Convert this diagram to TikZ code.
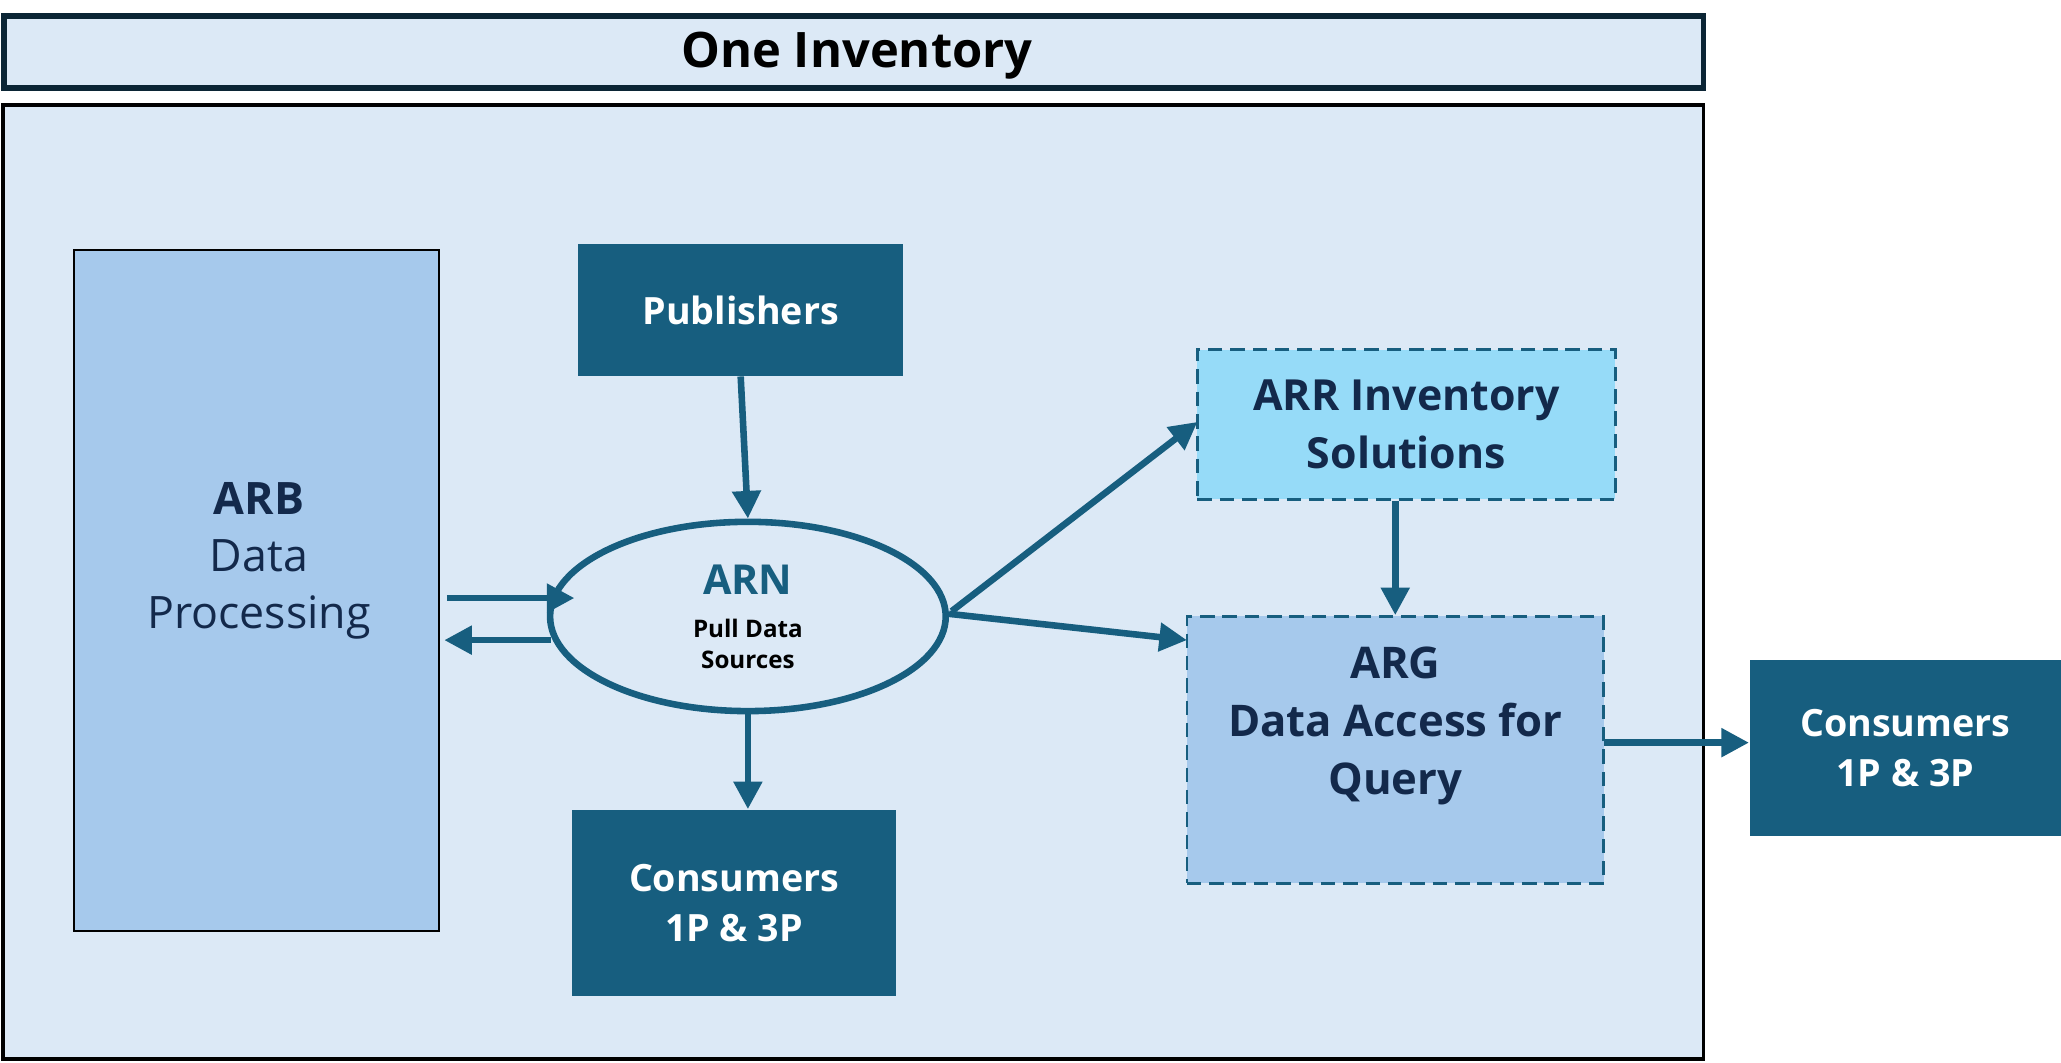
\documentclass[tikz,border=0pt]{standalone}
\usepackage{fontspec}
\setmainfont{Open Sans}
\usetikzlibrary{arrows.meta,shapes.geometric,calc}
\definecolor{bgl}{HTML}{DCE9F6}
\definecolor{arbf}{HTML}{A6C9EC}
\definecolor{tealc}{HTML}{175E7F}
\definecolor{arrf}{HTML}{96DBF8}
\definecolor{navyb}{HTML}{0B2535}
\definecolor{txtc}{HTML}{13294B}
\tikzset{
  darkbox/.style={fill=tealc, draw=none, text=white, align=center, inner sep=0pt,
    font=\bfseries\fontsize{14.3}{19}\selectfont},
  dashbox/.style={draw=tealc, line width=1pt, dash pattern=on 5.5pt off 3pt, inner sep=0pt},
  conn/.style={draw=tealc, line width=2.5pt, -{Triangle[length=10.5pt,width=10.5pt]}},
  lbl/.style={align=center, inner sep=0pt, text=txtc}
}
\begin{document}
\begin{tikzpicture}[x=0.5pt,y=-0.5pt]
\useasboundingbox (0,0) rectangle (1568,808);
% main and title boxes
\node[draw=black, line width=1.5pt, fill=bgl, minimum width=647pt, minimum height=363pt, inner sep=0pt] (main) at (649,443) {};
\node[draw=navyb, line width=2.2pt, fill=bgl, minimum width=646.5pt, minimum height=27.5pt, inner sep=0pt] (title) at (649.5,39.5) {};
\node[inner sep=0pt, font=\bfseries\fontsize{18.6}{22}\selectfont] (titlet) at (652,42) {One Inventory};
% ARB
\node[draw=black, line width=0.7pt, fill=arbf, minimum width=139pt, minimum height=259pt, inner sep=0pt] (arb) at (195,449) {};
\node[lbl, font=\fontsize{17}{21.7}\selectfont] (arbt) at (197,426.5) {\textbf{ARB}\\Data\\Processing};
% Publishers
\node[darkbox, minimum width=123.5pt, minimum height=50pt] (pub) at (563.5,236) {Publishers};
% ARN ellipse
\node[ellipse, draw=tealc, line width=2.5pt, fill=bgl, minimum width=150.5pt, minimum height=72pt, inner sep=0pt] (arn) at (569,469) {};
\node[inner sep=0pt, text=tealc, font=\bfseries\fontsize{15.7}{18}\selectfont] (arnt) at (569,441) {ARN};
\node[inner sep=0pt, align=center, text=black, font=\bfseries\fontsize{9.2}{12}\selectfont] (arns) at (569,490) {Pull Data\\Sources};
% Consumers (bottom)
\node[darkbox, minimum width=123.5pt, minimum height=71pt] (cons1) at (558.5,687) {Consumers\\1P \& 3P};
% ARR
\node[dashbox, fill=arrf, minimum width=159pt, minimum height=57pt] (arr) at (1070,323) {};
\node[lbl, font=\bfseries\fontsize{16.3}{22}\selectfont] (arrt) at (1070,323) {ARR Inventory\\Solutions};
% ARG
\node[dashbox, fill=arbf, minimum width=158.5pt, minimum height=101.5pt] (arg) at (1061.5,570.5) {};
\node[lbl, font=\bfseries\fontsize{16.6}{22}\selectfont] (argt) at (1061.5,552.5) {ARG\\Data Access for\\Query};
% Consumers (right)
\node[darkbox, minimum width=118.5pt, minimum height=67pt] (cons2) at (1449.5,569) {Consumers\\1P \& 3P};
% connector end points
\coordinate (a1s) at (340,455);
\coordinate (a1e) at (437,455);
\coordinate (a2s) at (419,487);
\coordinate (a2e) at (338,487);
\coordinate (a3s) at (724,465);
\coordinate (a3e) at (911,321);
\coordinate (a4s) at (722,467);
\coordinate (a4e) at (903,487);
\coordinate (a5s) at (1220,565);
% connectors
\draw[conn] (pub.south) -- (arn.north);
\draw[conn] (a1s) -- (a1e);
\draw[conn] (a2s) -- (a2e);
\draw[conn] (a3s) -- (a3e);
\draw[conn] (a4s) -- (a4e);
\draw[conn] (arn.south) -- (arn.south |- cons1.north);
\draw[conn] (arg.north |- arr.south) -- (arg.north);
\draw[conn] (a5s) -- (cons2.west |- a5s);
\end{tikzpicture}
\end{document}
